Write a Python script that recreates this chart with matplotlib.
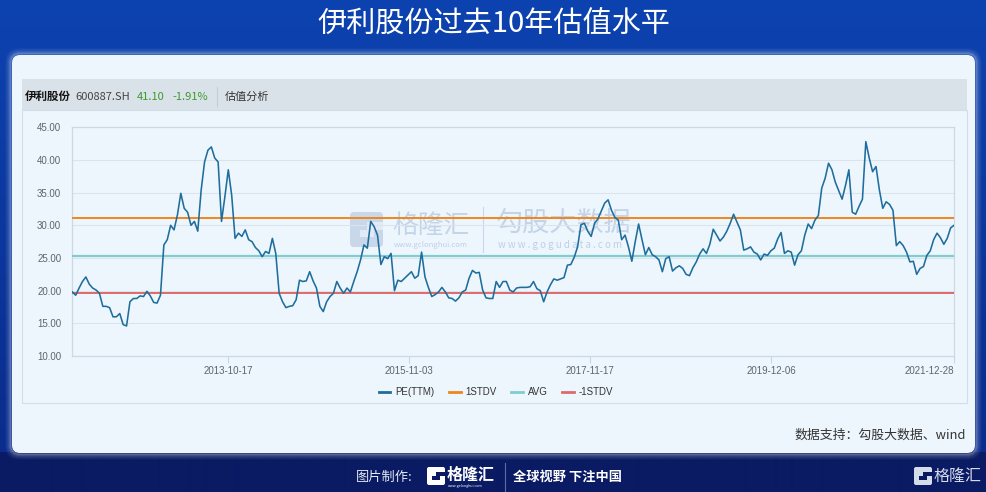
import numpy as np
import pandas as pd
import matplotlib
matplotlib.use('Agg')
import matplotlib.pyplot as plt
from matplotlib.patches import FancyBboxPatch, Rectangle
from matplotlib.lines import Line2D

# ---------------- data ----------------
START = '2012-01-13'
END = '2021-12-28'
pe_ttm = [
    # 2012 - 2013
    19.8, 19.3, 20.4, 21.4, 22.1, 21.0, 20.4, 20.1, 19.6, 17.6,
    17.6, 17.4, 16.0, 16.0, 16.5, 14.8, 14.6, 18.3, 18.8, 18.8,
    19.2, 19.1, 19.9, 19.2, 18.2, 18.1, 19.3, 27.0, 27.8, 30.0,
    29.3, 31.6, 34.9, 32.6, 32.0, 30.0, 30.6, 29.1, 35.4, 39.7,
    41.5, 42.0, 40.3, 39.7,
    # 2013 - 2015
    30.6, 34.4, 38.5, 34.6, 28.0, 28.8, 28.3, 29.3, 27.8, 27.5,
    26.6, 26.1, 25.2, 26.0, 25.7, 28.0, 25.7, 19.6, 18.3, 17.4,
    17.6, 17.7, 18.6, 21.6, 21.4, 21.5, 22.9, 21.5, 20.4, 17.6,
    16.8, 18.3, 19.1, 19.6, 21.4, 20.4, 19.6, 20.4, 19.8, 21.4,
    22.9, 24.7, 27.0, 26.5,
    # 2015 - 2017
    30.6, 29.8, 28.5, 24.0, 25.2, 24.9, 25.7, 20.0, 21.6, 21.4,
    21.9, 22.4, 22.9, 21.9, 22.3, 25.9, 22.1, 20.5, 19.1, 19.4,
    19.8, 20.5, 19.8, 18.9, 18.8, 18.4, 18.9, 19.8, 20.1, 21.9,
    23.1, 22.7, 22.8, 20.1, 18.9, 18.8, 18.8, 21.4, 20.5, 21.4,
    21.4, 20.1, 19.8, 20.4,
    # 2017 - 2019
    20.5, 20.5, 20.5, 20.6, 21.4, 20.3, 20.0, 18.3, 19.8, 20.9,
    21.8, 21.6, 21.8, 22.0, 23.9, 24.0, 25.1, 26.7, 30.1, 30.3,
    29.1, 28.3, 30.3, 31.0, 32.2, 33.4, 33.9, 32.3, 31.2, 30.8,
    27.8, 28.5, 26.7, 24.5, 27.5, 30.2, 27.8, 25.5, 26.6, 25.5,
    25.2, 24.7, 22.9, 24.9, 25.2,
    # 2019 - 2020
    23.0, 23.5, 23.8, 23.4, 22.5, 22.3, 23.5, 24.4, 25.6, 26.4,
    25.7, 27.1, 29.4, 28.5, 27.6, 28.2, 29.1, 30.3, 31.7, 30.5,
    29.3, 26.2, 26.4, 26.7, 25.9, 25.6, 24.7, 25.6, 25.4, 26.1,
    26.5, 27.9, 28.9, 25.7, 26.1, 25.9, 23.9, 25.5, 26.1, 28.5,
    30.2, 29.5, 30.8, 31.5,
    # 2020 - 2021
    35.7, 37.2, 39.5, 38.5, 36.6, 35.3, 34.0, 36.1, 38.5, 32.0,
    31.7, 32.9, 34.0, 42.8, 40.3, 38.2, 39.0, 35.4, 32.6, 33.6,
    33.2, 32.3, 26.9, 27.5, 26.9, 25.9, 24.4, 24.5, 22.5, 23.4,
    23.7, 25.4, 26.1, 27.8, 28.8, 28.1, 27.1, 28.0, 29.6, 30.0,
]
STDV_PLUS = 31.08
AVG_PE = 25.36
STDV_MINUS = 19.64
tick_dates = ['2013-10-17', '2015-11-03', '2017-11-17', '2019-12-06', '2021-12-28']
y_ticks = [10, 15, 20, 25, 30, 35, 40, 45]
legend_labels = ['PE(TTM)', '1STDV', 'AVG', '-1STDV']

TITLE = '伊利股份过去10年估值水平'
SOURCE = '数据支持：勾股大数据、wind'

C_PE = '#1f6d9c'
C_UP = '#f0861a'
C_AVG = '#7fcdcf'
C_DN = '#e06a6a'

plt.rcParams['font.family'] = ['Noto Sans CJK SC', 'DejaVu Sans']

W, H = 987, 492
fig = plt.figure(figsize=(W / 100, H / 100), dpi=100)

# ---------------- background / decoration ----------------
bg = fig.add_axes([0, 0, 1, 1])
bg.set_xlim(0, W)
bg.set_ylim(H, 0)
bg.axis('off')

top = np.array([0x0d, 0x43, 0xb0]) / 255
mid = np.array([0x0a, 0x2c, 0x8c]) / 255
bot = np.array([0x0a, 0x1b, 0x64]) / 255
grad = np.zeros((H, 1, 3))
for i in range(H):
    if i < 452:
        t = i / 452
        grad[i, 0] = top * (1 - t) + mid * t
    else:
        grad[i, 0] = bot
bg.imshow(grad, extent=[0, W, H, 0], aspect='auto', zorder=0, interpolation='bilinear')

# glow around panel
for i, a in zip(range(1, 7), [0.25, 0.18, 0.12, 0.08, 0.05, 0.03]):
    bg.add_patch(FancyBboxPatch((12 - i, 55 - i), 963 + 2 * i, 398 + 2 * i,
                                boxstyle='round,pad=0,rounding_size=%d' % (8 + i),
                                fc='none', ec='white', lw=1.2, alpha=a, zorder=1))
bg.add_patch(FancyBboxPatch((12, 55), 963, 398, boxstyle='round,pad=0,rounding_size=8',
                            fc='#eef6fd', ec='none', zorder=2))
# header bar
bg.add_patch(Rectangle((22, 79), 945, 31, fc='#dae2e9', ec='none', zorder=3))
# inner chart frame
bg.add_patch(Rectangle((22, 110), 945, 293, fc='none', ec='#d3dde8', lw=0.8, zorder=3))

bg.text(W / 2, 25, TITLE, color='white', fontsize=21, ha='center', va='center', zorder=5)

hy = 96.5
bg.text(25, hy, '伊利股份', fontsize=8.3, fontweight='bold', color='#111111', ha='left', va='center', zorder=5)
bg.text(75, hy, '600887.SH', fontsize=8, color='#444444', ha='left', va='center', zorder=5)
bg.text(137, hy, '41.10', fontsize=8, color='#3d9a2c', ha='left', va='center', zorder=5)
bg.text(172, hy, '-1.91%', fontsize=8, color='#3d9a2c', ha='left', va='center', zorder=5)
bg.plot([217, 217], [87, 106], color='#c4ccd4', lw=0.8, zorder=5)
bg.text(225, hy, '估值分析', fontsize=8, color='#333333', ha='left', va='center', zorder=5)

# watermark
wm = '#b9cbe3'
bg.add_patch(FancyBboxPatch((350, 212), 33, 35, boxstyle='round,pad=0,rounding_size=4',
                            fc=wm, ec='none', alpha=0.7, zorder=3))
bg.add_patch(Rectangle((367, 222), 16, 8, fc='#e4edf8', ec='none', alpha=0.9, zorder=3))
bg.add_patch(Rectangle((360, 230), 14, 7, fc='#e4edf8', ec='none', alpha=0.9, zorder=3))
bg.text(392, 226, '格隆汇', fontsize=18.5, color=wm, alpha=0.8, ha='left', va='center', zorder=3)
bg.text(394, 245, 'www.gclonghui.com', fontsize=5.5, color=wm, alpha=0.9, ha='left', va='center', zorder=3)
bg.plot([483, 483], [207, 252], color=wm, lw=0.8, alpha=0.7, zorder=3)
bg.text(496, 223, '勾股大数据', fontsize=19.5, color=wm, alpha=0.8, ha='left', va='center', zorder=3)
bg.text(498, 245, 'w w w . g o g u d a t a . c o m', fontsize=7, color=wm, alpha=0.9, ha='left', va='center', zorder=3)

# source text
bg.text(966, 435, SOURCE, fontsize=9.3, color='#333333', ha='right', va='center', zorder=5)

# footer
fy = 477
bg.text(356, fy, '图片制作:', fontsize=9.5, color='#e4e9f2', ha='left', va='center', zorder=5)


def logo(x, y, s, color, bgc):
    bg.add_patch(FancyBboxPatch((x, y - s / 2), s, s, boxstyle='round,pad=0,rounding_size=2',
                                fc=color, ec='none', zorder=5))
    bg.add_patch(Rectangle((x + s * 0.5, y - s * 0.22), s * 0.5, s * 0.2, fc=bgc, ec='none', zorder=6))
    bg.add_patch(Rectangle((x + s * 0.3, y + s * 0.0), s * 0.4, s * 0.2, fc=bgc, ec='none', zorder=6))


logo(427, fy - 1, 18, 'white', '#0a1b64')
bg.text(447, fy - 2, '格隆汇', fontsize=11.5, fontweight='bold', color='white', ha='left', va='center', zorder=5)
bg.text(448, fy + 9, 'www.gelonghui.com', fontsize=2.6, color='white', ha='left', va='center', zorder=5)
bg.plot([505, 505], [463, 491], color='#5d6fa8', lw=0.8, zorder=5)
bg.text(513, fy, '全球视野 下注中国', fontsize=9.5, fontweight='bold', color='white', ha='left', va='center', zorder=5)
logo(914, fy - 1, 18, '#d5dcea', '#0a1b64')
bg.text(934, fy - 1, '格隆汇', fontsize=11.5, color='#d5dcea', ha='left', va='center', zorder=5)

# ---------------- chart ----------------
x0, x1 = 72.3, 954.0
y0, y1 = 127.3, 356.0
ax = fig.add_axes([x0 / W, 1 - y1 / H, (x1 - x0) / W, (y1 - y0) / H])
ax.set_facecolor('none')

dates = pd.date_range(START, END, periods=len(pe_ttm))
ax.plot(dates, pe_ttm, color=C_PE, lw=1.15, zorder=5)
ax.axhline(STDV_PLUS, color=C_UP, lw=1.4, zorder=4)
ax.axhline(AVG_PE, color=C_AVG, lw=1.6, zorder=4)
ax.axhline(STDV_MINUS, color=C_DN, lw=1.4, zorder=4)

ax.set_xlim(dates[0], dates[-1])
ax.set_ylim(10, 45)
ax.set_yticks(y_ticks)
ax.set_yticklabels([f'{v:.2f}' for v in y_ticks], family=['Liberation Sans', 'DejaVu Sans'])
ax.set_xticks(pd.to_datetime(tick_dates))
xl = ax.set_xticklabels(tick_dates, family=['Liberation Sans', 'DejaVu Sans'])
xl[-1].set_horizontalalignment('right')
ax.tick_params(axis='y', length=0, pad=8, labelsize=7, labelcolor='#5b6570')
ax.tick_params(axis='x', length=5, width=0.8, color='#c8d5e2', pad=2, labelsize=7, labelcolor='#5b6570')
ax.grid(axis='y', color='#dbe4ed', lw=0.8)
ax.set_axisbelow(True)
for sp in ax.spines.values():
    sp.set_color('#cbd8e5')
    sp.set_linewidth(0.9)

handles = [Line2D([], [], color=c, lw=2) for c in [C_PE, C_UP, C_AVG, C_DN]]
leg = fig.legend(handles, legend_labels, loc='center', bbox_to_anchor=(496 / W, 1 - 392 / H),
                 ncol=4, frameon=False, fontsize=7, handlelength=1.2, handletextpad=0.5,
                 columnspacing=1.5, prop={'family': ['Liberation Sans', 'DejaVu Sans'], 'size': 7})
for t in leg.get_texts():
    t.set_color('#333333')

fig.savefig('out.png', dpi=100)
